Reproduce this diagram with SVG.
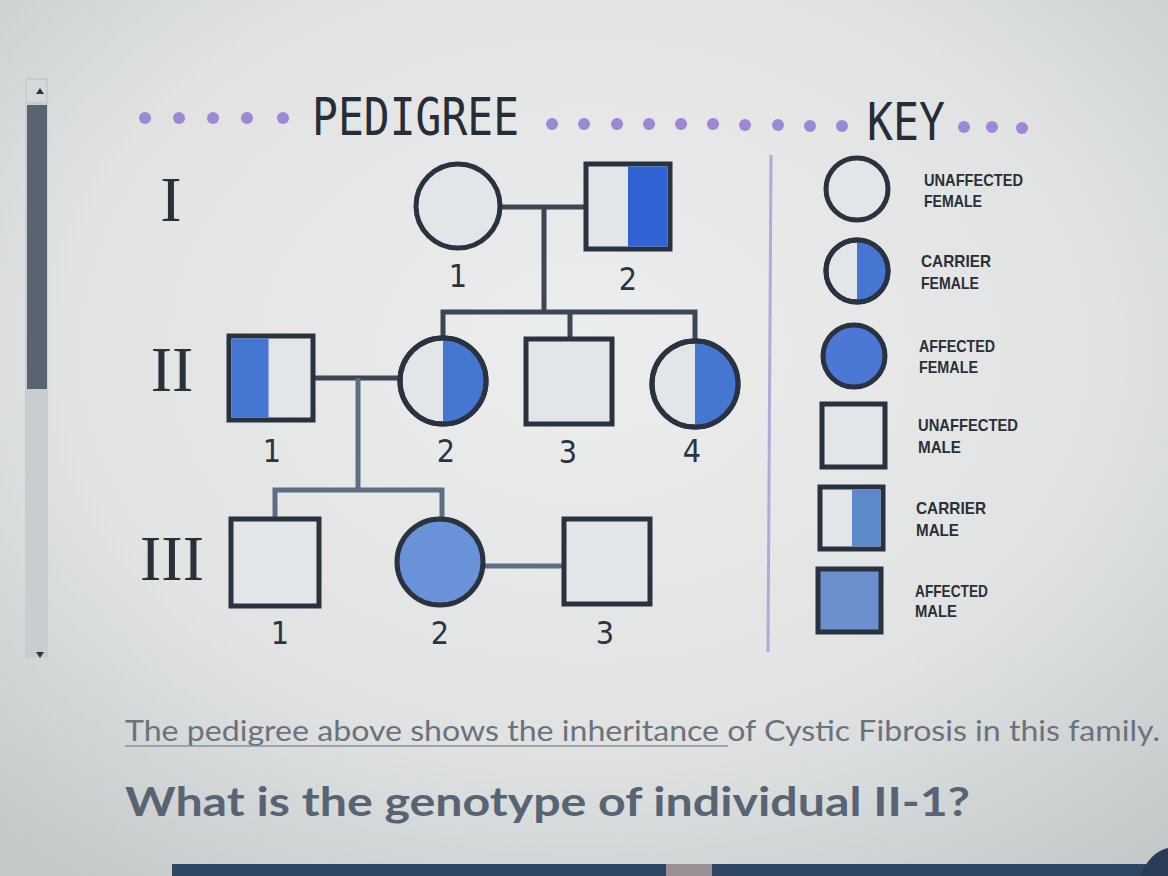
<svg xmlns="http://www.w3.org/2000/svg" width="1168" height="876" viewBox="0 0 1168 876">
<defs>
<radialGradient id="bg" cx="0.5" cy="0.4" r="0.75">
<stop offset="0" stop-color="#eceeed"/>
<stop offset="0.6" stop-color="#e0e3e2"/>
<stop offset="1" stop-color="#c4c8c9"/>
</radialGradient>
<style>
.dot{fill:#9c89d6}
.title{font-family:"DejaVu Sans Mono",monospace;font-size:52px;fill:#262d38}
.rom{font-family:"Liberation Serif",serif;font-size:64px;fill:#2a3038}
.num{font-family:"DejaVu Sans",sans-serif;font-stretch:condensed;font-size:32px;fill:#2c3440}
.sym{stroke:#29323e;stroke-width:5;fill:#e3e6e8}
.half{fill:#4577d2}
.full{fill:#6a92d8}
.line{stroke:#3c4756;stroke-width:5;fill:none}
.line2{stroke:#5d6d86;stroke-width:5;fill:none}
.key{font-family:"Liberation Sans",sans-serif;font-weight:bold;font-size:17px;fill:#2a2f38}
.q1{font-family:Lato,"Liberation Sans",sans-serif;font-size:29px;fill:#6b727c}
.q2{font-family:Lato,"Liberation Sans",sans-serif;font-weight:bold;font-size:41px;fill:#586474}
</style>
</defs>
<rect width="1168" height="876" fill="url(#bg)"/>
<!-- scrollbar -->
<g id="scrollbar">
<rect x="25" y="78" width="23" height="580" fill="#c9ccd0"/>
<rect x="27" y="80" width="19" height="22" fill="#d6d9dc"/>
<polygon points="36,94 44,94 40,88" fill="#2c3440"/>
<rect x="27" y="105" width="20" height="284" fill="#5a6370"/>
<polygon points="36,652 44,652 40,658" fill="#2c3440"/>
</g>
<!-- header -->
<g id="header">
<circle class="dot" cx="145" cy="118" r="6"/>
<circle class="dot" cx="179" cy="118" r="6"/>
<circle class="dot" cx="213" cy="118" r="6"/>
<circle class="dot" cx="247" cy="118" r="6"/>
<circle class="dot" cx="283" cy="118" r="6"/>
<text class="title" x="312" y="135" textLength="207" lengthAdjust="spacingAndGlyphs">PEDIGREE</text>
<circle class="dot" cx="552" cy="124" r="6"/>
<circle class="dot" cx="584" cy="124" r="6"/>
<circle class="dot" cx="617" cy="124" r="6"/>
<circle class="dot" cx="649" cy="124" r="6"/>
<circle class="dot" cx="681" cy="124" r="6"/>
<circle class="dot" cx="713" cy="124" r="6"/>
<circle class="dot" cx="745" cy="125" r="6"/>
<circle class="dot" cx="778" cy="125" r="6"/>
<circle class="dot" cx="810" cy="126" r="6"/>
<circle class="dot" cx="842" cy="126" r="6"/>
<text class="title" x="867" y="140" textLength="78" lengthAdjust="spacingAndGlyphs">KEY</text>
<circle class="dot" cx="964" cy="127" r="6"/>
<circle class="dot" cx="992" cy="127" r="6"/>
<circle class="dot" cx="1022" cy="128" r="6"/>
<line x1="771" y1="155" x2="768" y2="652" stroke="#b3a8dc" stroke-width="3"/>
</g>
<!-- generation labels -->
<g id="generations">
<text class="rom" x="171" y="221" text-anchor="middle">I</text>
<text class="rom" x="172" y="391" text-anchor="middle">II</text>
<text class="rom" x="172" y="580" text-anchor="middle">III</text>
</g>
<!-- connectors -->
<g id="connectors">
<line class="line" x1="500" y1="207" x2="586" y2="207"/>
<line class="line" x1="544" y1="207" x2="544" y2="312"/>
<polyline class="line" points="443,337 443,312 695,312 695,340"/>
<line class="line" x1="570" y1="312" x2="570" y2="339"/>
<line class="line" x1="313" y1="378" x2="400" y2="378"/>
<line class="line2" x1="358" y1="378" x2="358" y2="490"/>
<polyline class="line2" points="275,518 275,490 442,490 442,518"/>
<line class="line2" x1="484" y1="566" x2="564" y2="566"/>
</g>
<!-- Generation I -->
<g id="I-1">
<circle class="sym" cx="458" cy="206" r="42"/>
<text class="num" x="458" y="287" text-anchor="middle">1</text>
</g>
<g id="I-2">
<rect class="sym" x="586" y="164" width="84" height="85"/>
<rect x="628" y="166.5" width="39.5" height="80" fill="#2f63d6"/>
<text class="num" x="628" y="290" text-anchor="middle">2</text>
</g>
<!-- Generation II -->
<g id="II-1">
<rect class="sym" x="229" y="336" width="84" height="84"/>
<rect x="231.5" y="338.5" width="37" height="79" class="half"/>
<text class="num" x="272" y="462" text-anchor="middle">1</text>
</g>
<g id="II-2">
<circle class="sym" cx="443" cy="381" r="43"/>
<path class="half" d="M443,338 A43,43 0 0 1 443,424 Z"/>
<circle cx="443" cy="381" r="43" fill="none" stroke="#29323e" stroke-width="5"/>
<text class="num" x="446" y="462" text-anchor="middle">2</text>
</g>
<g id="II-3">
<rect class="sym" x="526" y="339" width="86" height="85"/>
<text class="num" x="568" y="463" text-anchor="middle">3</text>
</g>
<g id="II-4">
<circle class="sym" cx="695" cy="384" r="43"/>
<path class="half" d="M695,341 A43,43 0 0 1 695,427 Z"/>
<circle cx="695" cy="384" r="43" fill="none" stroke="#29323e" stroke-width="5"/>
<text class="num" x="692" y="462" text-anchor="middle">4</text>
</g>
<!-- Generation III -->
<g id="III-1">
<rect class="sym" x="231" y="519" width="88" height="87"/>
<text class="num" x="280" y="644" text-anchor="middle">1</text>
</g>
<g id="III-2">
<circle class="sym full" cx="440" cy="562" r="43"/>
<text class="num" x="440" y="644" text-anchor="middle">2</text>
</g>
<g id="III-3">
<rect class="sym" x="564" y="519" width="86" height="85"/>
<text class="num" x="605" y="644" text-anchor="middle">3</text>
</g>
<!-- Key -->
<g id="key-unaffected-female">
<circle class="sym" cx="857" cy="189" r="31"/>
<text class="key" x="924" y="186" textLength="99" lengthAdjust="spacingAndGlyphs">UNAFFECTED</text>
<text class="key" x="924" y="207" textLength="58" lengthAdjust="spacingAndGlyphs">FEMALE</text>
</g>
<g id="key-carrier-female">
<circle class="sym" cx="857" cy="271" r="31"/>
<path class="half" d="M857,240 A31,31 0 0 1 857,302 Z"/>
<circle cx="857" cy="271" r="31" fill="none" stroke="#29323e" stroke-width="5"/>
<text class="key" x="921" y="267" textLength="70" lengthAdjust="spacingAndGlyphs">CARRIER</text>
<text class="key" x="921" y="289" textLength="58" lengthAdjust="spacingAndGlyphs">FEMALE</text>
</g>
<g id="key-affected-female">
<circle class="sym" cx="854" cy="356" r="31" style="fill:#4a78d4"/>
<text class="key" x="919" y="352" textLength="76" lengthAdjust="spacingAndGlyphs">AFFECTED</text>
<text class="key" x="919" y="373" textLength="59" lengthAdjust="spacingAndGlyphs">FEMALE</text>
</g>
<g id="key-unaffected-male">
<rect class="sym" x="822" y="404" width="63" height="63"/>
<text class="key" x="918" y="431" textLength="100" lengthAdjust="spacingAndGlyphs">UNAFFECTED</text>
<text class="key" x="918" y="453" textLength="43" lengthAdjust="spacingAndGlyphs">MALE</text>
</g>
<g id="key-carrier-male">
<rect class="sym" x="820" y="487" width="63" height="62"/>
<rect x="852" y="489.5" width="28.5" height="57" fill="#5d88cc"/>
<text class="key" x="916" y="514" textLength="70" lengthAdjust="spacingAndGlyphs">CARRIER</text>
<text class="key" x="916" y="536" textLength="43" lengthAdjust="spacingAndGlyphs">MALE</text>
</g>
<g id="key-affected-male">
<rect class="sym" x="818" y="569" width="63" height="63" style="fill:#6a8fcc"/>
<text class="key" x="915" y="597" textLength="73" lengthAdjust="spacingAndGlyphs">AFFECTED</text>
<text class="key" x="915" y="617" textLength="42" lengthAdjust="spacingAndGlyphs">MALE</text>
</g>
<!-- question text -->
<g id="question">
<text class="q1" x="125" y="741" textLength="1035" lengthAdjust="spacingAndGlyphs">The pedigree above shows the inheritance of Cystic Fibrosis in this family.</text>
<line x1="125" y1="746" x2="728" y2="746" stroke="#8a9099" stroke-width="1.5"/>
<text class="q2" x="125" y="816" textLength="845" lengthAdjust="spacingAndGlyphs">What is the genotype of individual II-1?</text>
</g>
<!-- bottom bar -->
<g id="bottom-bar">
<rect x="172" y="864" width="494" height="12" fill="#2e4563"/>
<rect x="666" y="864" width="46" height="12" fill="#9a8f94"/>
<rect x="712" y="864" width="456" height="12" fill="#2e4563"/>
<path d="M1140,876 Q1150,852 1168,848 L1168,876 Z" fill="#2a3c58"/>
</g>
</svg>
